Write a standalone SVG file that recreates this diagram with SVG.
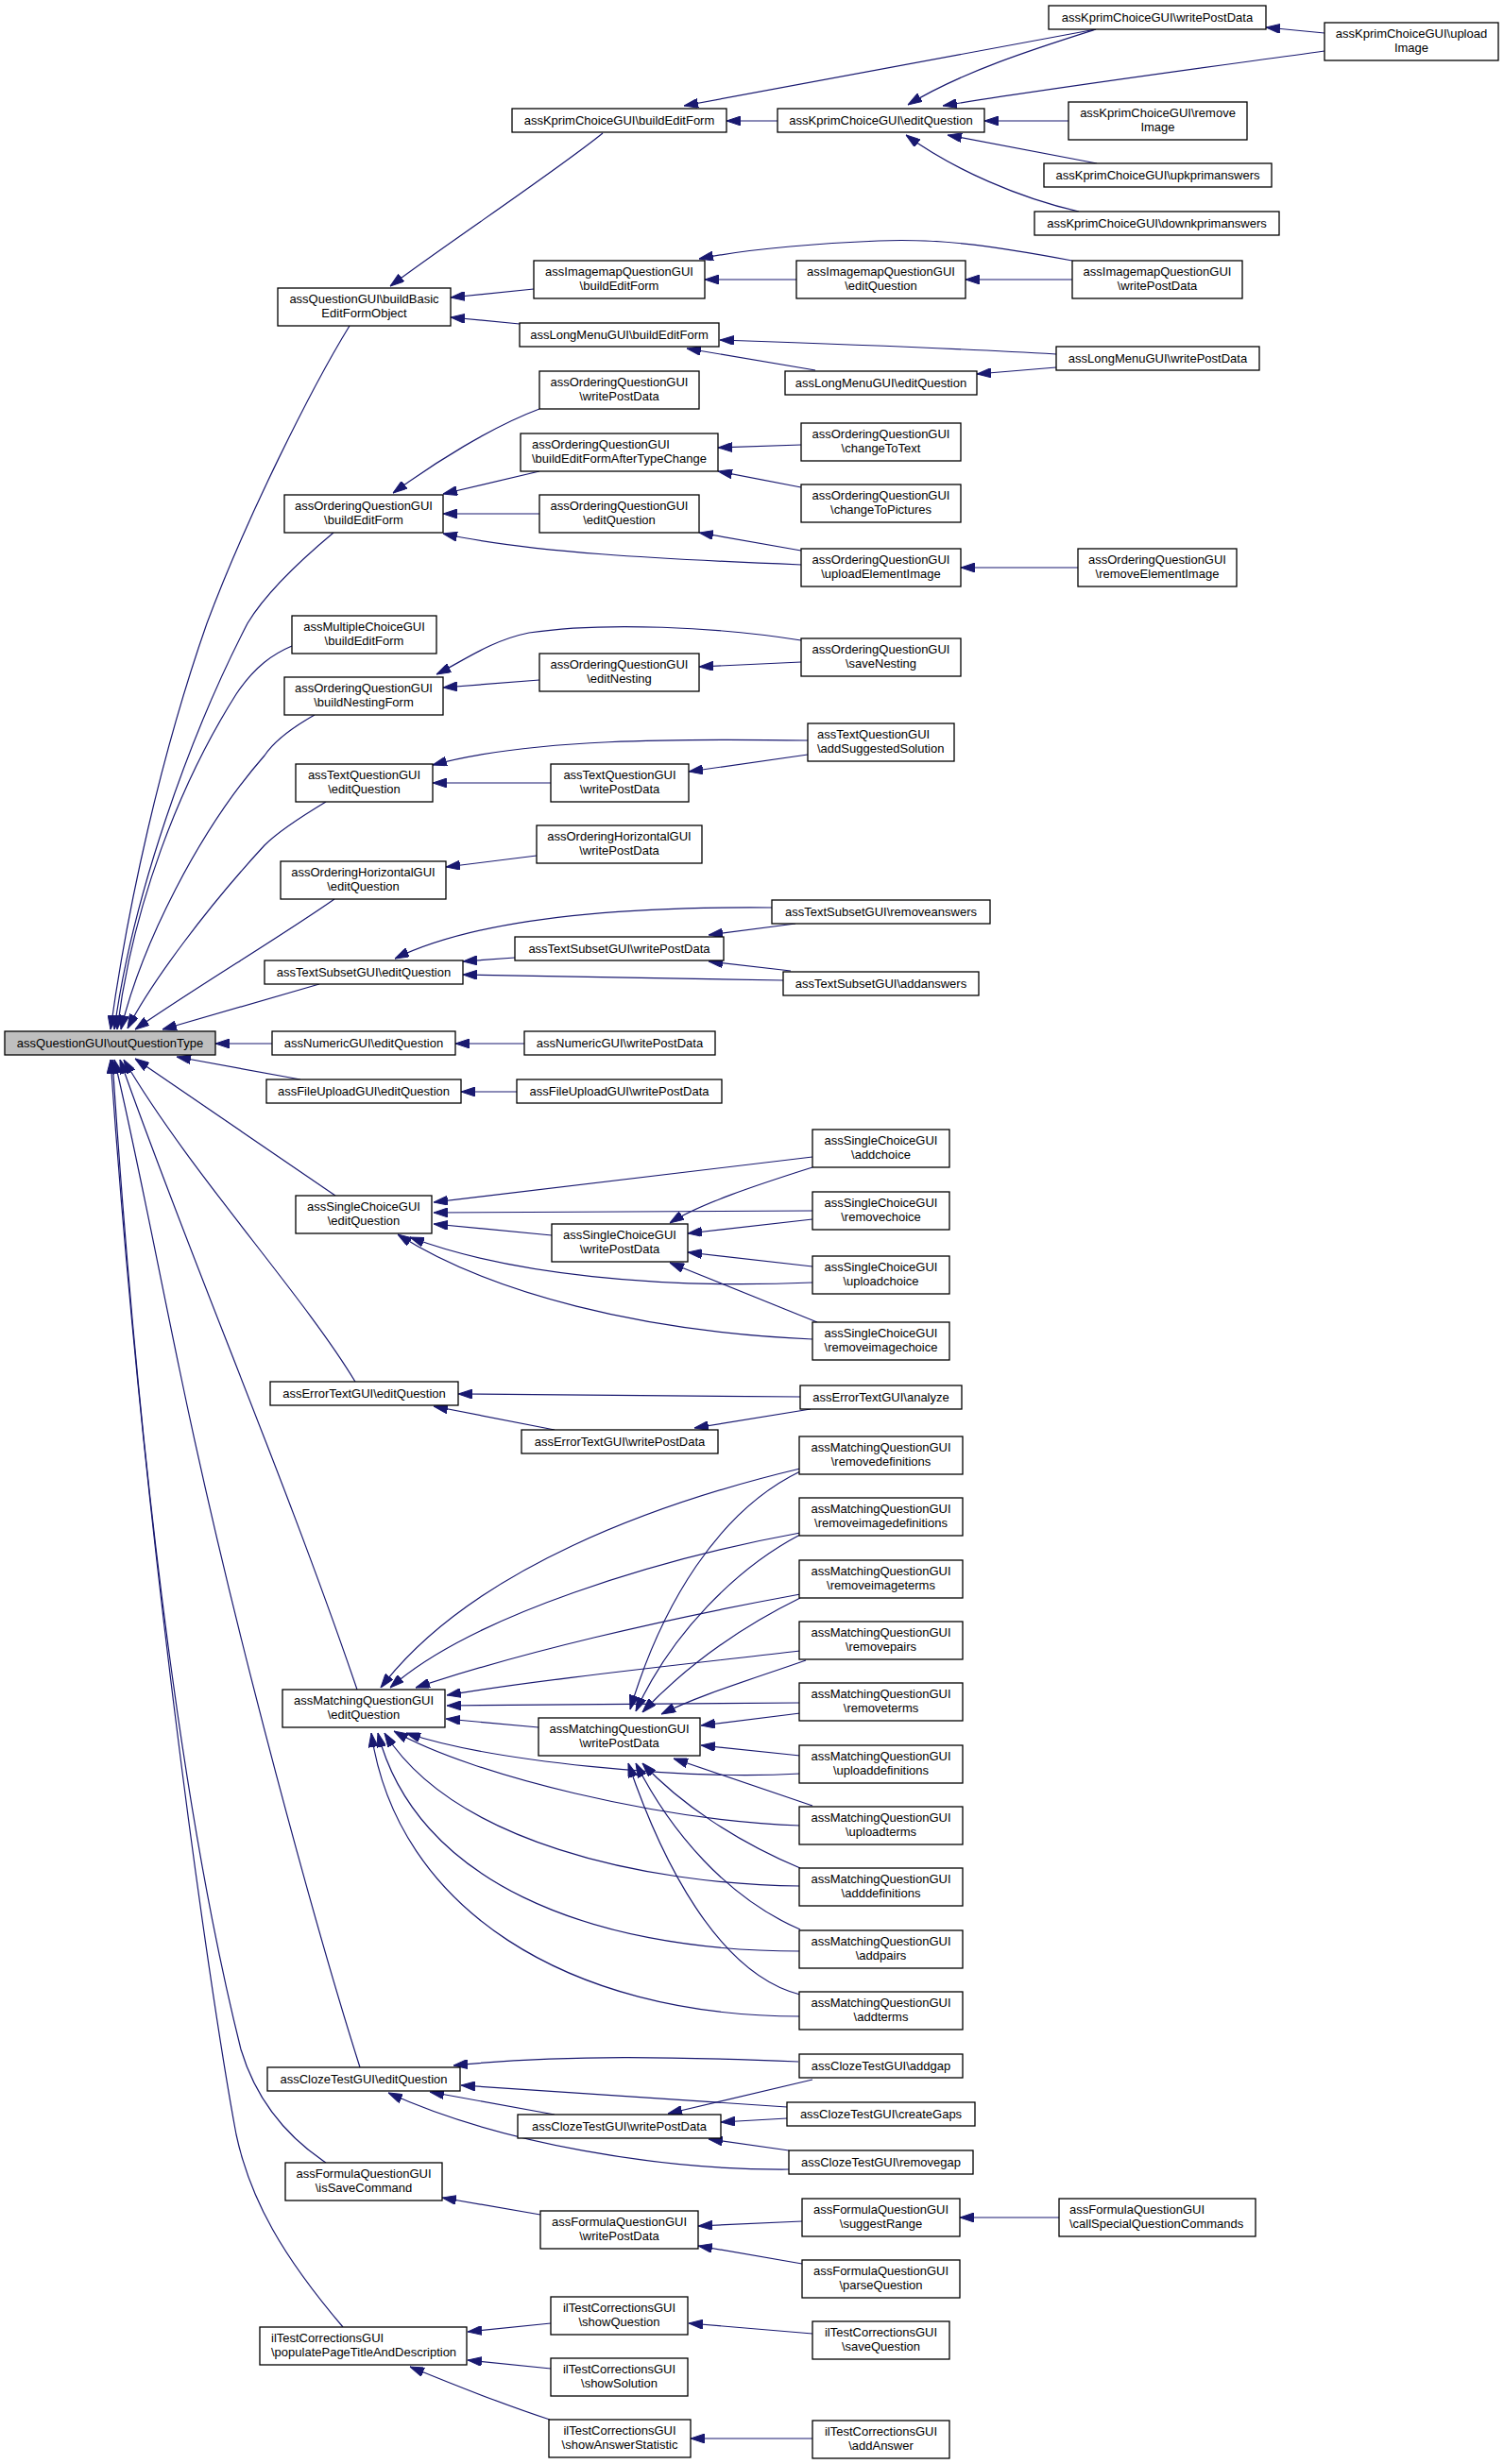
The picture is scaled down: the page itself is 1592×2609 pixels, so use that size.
<svg xmlns="http://www.w3.org/2000/svg" width="1592" height="2609" viewBox="0 0 1592 2609">
<style>
.node rect{fill:#fff;stroke:#000;stroke-width:1.3}
.node text{font-family:"Liberation Sans",Arial,sans-serif;font-size:13px;fill:#000;text-anchor:middle}
.node text.l{text-anchor:start}
#n0 rect{fill:#bfbfbf}
.edges path{fill:none;stroke:#191970;stroke-width:1.2;marker-end:url(#ah)}
</style>
<defs>
<marker id="ah" markerUnits="userSpaceOnUse" markerWidth="15" markerHeight="10" refX="15" refY="5" orient="auto">
<path d="M0,0 L15,5 L0,10 Z" fill="#191970" stroke="#191970" stroke-width="1"/>
</marker>
</defs>
<rect width="1592" height="2609" fill="#fff"/>
<g class="edges">
<path d="M638,141 C590,180 470,260 413,303"/>
<path d="M565,306 L477,315"/>
<path d="M550,343 L477,336"/>
<path d="M1160,31 L724,112"/>
<path d="M823,128 L769,128"/>
<path d="M1160,31 C1100,50 1020,75 961,111"/>
<path d="M1402,54 C1250,75 1100,95 998,112"/>
<path d="M1402,35 L1340,29"/>
<path d="M1131,128 L1042,128"/>
<path d="M1161,173 L1003,143"/>
<path d="M1142,224 C1080,210 1010,180 959,143"/>
<path d="M843,296 L746,296"/>
<path d="M1135,296 L1022,296"/>
<path d="M1135,276 C1060,262 1000,252 930,255 C860,258 790,264 740,274"/>
<path d="M1118,375 C1000,368 880,364 762,360"/>
<path d="M863,392 L727,369"/>
<path d="M1118,389 L1034,396"/>
<path d="M571,433 C520,452 460,490 416,522"/>
<path d="M571,499 L469,523"/>
<path d="M571,544 L469,544"/>
<path d="M848,598 C700,592 560,585 469,565"/>
<path d="M848,471 L760,474"/>
<path d="M848,516 L760,499"/>
<path d="M848,583 L740,564"/>
<path d="M1141,601 L1017,601"/>
<path d="M571,720 L469,728"/>
<path d="M848,678 C760,664 640,658 560,670 C520,678 490,700 462,714"/>
<path d="M848,701 L740,706"/>
<path d="M583,829 L458,829"/>
<path d="M855,784 C720,782 560,782 458,810"/>
<path d="M855,799 L729,817"/>
<path d="M568,906 L472,918"/>
<path d="M545,1014 L490,1018"/>
<path d="M817,961 C700,960 520,965 418,1015"/>
<path d="M829,1038 L490,1032"/>
<path d="M842,978 L750,990"/>
<path d="M837,1028 L750,1018"/>
<path d="M555,1105 L482,1105"/>
<path d="M547,1156 L488,1156"/>
<path d="M288,1105 L228,1105"/>
<path d="M338,1042 L172,1090"/>
<path d="M318,1143 L187,1119"/>
<path d="M370,345 C330,410 260,550 219,660 C170,800 135,960 117,1090"/>
<path d="M353,564 C310,600 280,630 262,660 C200,780 140,950 121,1090"/>
<path d="M309,684 C290,692 270,705 250,735 C190,830 140,960 124,1090"/>
<path d="M333,757 C310,770 290,785 280,800 C210,880 150,1000 128,1090"/>
<path d="M345,849 C310,870 290,885 280,895 C220,960 160,1040 135,1089"/>
<path d="M354,952 C300,990 200,1050 143,1090"/>
<path d="M355,1266 L143,1121"/>
<path d="M376,1463 C320,1370 200,1240 131,1122"/>
<path d="M378,1789 C300,1560 200,1330 127,1122"/>
<path d="M381,2189 C340,2060 250,1740 190,1450 C165,1330 140,1200 121,1122"/>
<path d="M345,2290 C300,2260 270,2220 255,2170 C200,1950 150,1600 119,1122"/>
<path d="M363,2464 C300,2390 265,2330 250,2260 C220,2100 150,1600 117,1122"/>
<path d="M860,1225 L459,1273"/>
<path d="M860,1282 L459,1284"/>
<path d="M584,1308 L459,1296"/>
<path d="M860,1358 C700,1365 540,1350 434,1310"/>
<path d="M860,1418 C680,1410 520,1370 421,1307"/>
<path d="M860,1236 C800,1255 740,1275 709,1295"/>
<path d="M860,1291 L728,1306"/>
<path d="M860,1341 L728,1326"/>
<path d="M865,1400 L709,1337"/>
<path d="M847,1479 L485,1476"/>
<path d="M587,1514 L459,1489"/>
<path d="M858,1492 L735,1512"/>
<path d="M847,1555 C700,1590 500,1660 403,1787"/>
<path d="M847,1623 C700,1650 500,1710 413,1787"/>
<path d="M847,1688 C700,1715 550,1750 440,1787"/>
<path d="M847,1748 C700,1765 560,1780 473,1795"/>
<path d="M847,1803 L473,1806"/>
<path d="M847,1878 C720,1885 520,1865 430,1835"/>
<path d="M847,1933 C700,1928 500,1880 417,1833"/>
<path d="M847,1997 C680,1995 480,1950 407,1835"/>
<path d="M847,2066 C620,2066 440,1990 400,1835"/>
<path d="M847,2135 C600,2135 420,2020 393,1835"/>
<path d="M847,1558 C760,1600 700,1700 667,1810"/>
<path d="M847,1625 C780,1660 710,1730 673,1812"/>
<path d="M847,1692 C790,1720 730,1760 680,1813"/>
<path d="M853,1758 C790,1780 740,1795 700,1815"/>
<path d="M847,1814 L742,1827"/>
<path d="M847,1859 L742,1848"/>
<path d="M860,1912 L713,1862"/>
<path d="M847,1978 C780,1950 720,1910 680,1867"/>
<path d="M847,2043 C770,2010 710,1940 673,1867"/>
<path d="M847,2112 C760,2090 700,1970 665,1867"/>
<path d="M570,1829 L472,1820"/>
<path d="M845,2183 C720,2178 600,2175 480,2187"/>
<path d="M833,2231 L488,2208"/>
<path d="M587,2239 L455,2215"/>
<path d="M860,2202 L707,2238"/>
<path d="M833,2243 L763,2247"/>
<path d="M835,2277 L750,2265"/>
<path d="M835,2297 C700,2298 530,2270 411,2216"/>
<path d="M572,2345 L468,2327"/>
<path d="M849,2352 L739,2357"/>
<path d="M849,2397 L739,2378"/>
<path d="M1121,2348 L1016,2348"/>
<path d="M583,2460 L495,2469"/>
<path d="M583,2508 L495,2499"/>
<path d="M582,2562 C530,2545 480,2525 434,2506"/>
<path d="M860,2471 L729,2460"/>
<path d="M860,2582 L731,2582"/>
</g>
<g id="n0" class="node"><rect x="5" y="1092" width="223" height="25"/><text x="116.5" y="1109">assQuestionGUI\outQuestionType</text></g>
<g id="n1" class="node"><rect x="294" y="305" width="183" height="40"/><text x="385.5" y="321">assQuestionGUI\buildBasic</text><text x="385.5" y="336">EditFormObject</text></g>
<g id="n2" class="node"><rect x="542" y="115" width="227" height="25"/><text x="655.5" y="132">assKprimChoiceGUI\buildEditForm</text></g>
<g id="n3" class="node"><rect x="823" y="115" width="219" height="25"/><text x="932.5" y="132">assKprimChoiceGUI\editQuestion</text></g>
<g id="n4" class="node"><rect x="1110" y="6" width="230" height="25"/><text x="1225" y="23">assKprimChoiceGUI\writePostData</text></g>
<g id="n5" class="node"><rect x="1402" y="24" width="184" height="40"/><text x="1494" y="40">assKprimChoiceGUI\upload</text><text x="1494" y="55">Image</text></g>
<g id="n6" class="node"><rect x="1131" y="108" width="189" height="40"/><text x="1225.5" y="124">assKprimChoiceGUI\remove</text><text x="1225.5" y="139">Image</text></g>
<g id="n7" class="node"><rect x="1105" y="173" width="241" height="25"/><text x="1225.5" y="190">assKprimChoiceGUI\upkprimanswers</text></g>
<g id="n8" class="node"><rect x="1095" y="224" width="259" height="25"/><text x="1224.5" y="241">assKprimChoiceGUI\downkprimanswers</text></g>
<g id="n9" class="node"><rect x="565" y="276" width="181" height="40"/><text x="655.5" y="292">assImagemapQuestionGUI</text><text x="655.5" y="307">\buildEditForm</text></g>
<g id="n10" class="node"><rect x="843" y="276" width="179" height="40"/><text x="932.5" y="292">assImagemapQuestionGUI</text><text x="932.5" y="307">\editQuestion</text></g>
<g id="n11" class="node"><rect x="1135" y="276" width="180" height="40"/><text x="1225" y="292">assImagemapQuestionGUI</text><text x="1225" y="307">\writePostData</text></g>
<g id="n12" class="node"><rect x="550" y="342" width="211" height="25"/><text x="655.5" y="359">assLongMenuGUI\buildEditForm</text></g>
<g id="n13" class="node"><rect x="831" y="393" width="203" height="25"/><text x="932.5" y="410">assLongMenuGUI\editQuestion</text></g>
<g id="n14" class="node"><rect x="1118" y="367" width="215" height="25"/><text x="1225.5" y="384">assLongMenuGUI\writePostData</text></g>
<g id="n15" class="node"><rect x="571" y="393" width="169" height="40"/><text x="655.5" y="409">assOrderingQuestionGUI</text><text x="655.5" y="424">\writePostData</text></g>
<g id="n16" class="node"><rect x="551" y="459" width="209" height="40"/><text class="l" x="563" y="475">assOrderingQuestionGUI</text><text class="l" x="563" y="490">\buildEditFormAfterTypeChange</text></g>
<g id="n17" class="node"><rect x="301" y="524" width="168" height="40"/><text x="385" y="540">assOrderingQuestionGUI</text><text x="385" y="555">\buildEditForm</text></g>
<g id="n18" class="node"><rect x="571" y="524" width="169" height="40"/><text x="655.5" y="540">assOrderingQuestionGUI</text><text x="655.5" y="555">\editQuestion</text></g>
<g id="n19" class="node"><rect x="848" y="448" width="169" height="40"/><text x="932.5" y="464">assOrderingQuestionGUI</text><text x="932.5" y="479">\changeToText</text></g>
<g id="n20" class="node"><rect x="848" y="513" width="169" height="40"/><text x="932.5" y="529">assOrderingQuestionGUI</text><text x="932.5" y="544">\changeToPictures</text></g>
<g id="n21" class="node"><rect x="848" y="581" width="169" height="40"/><text x="932.5" y="597">assOrderingQuestionGUI</text><text x="932.5" y="612">\uploadElementImage</text></g>
<g id="n22" class="node"><rect x="1141" y="581" width="168" height="40"/><text x="1225" y="597">assOrderingQuestionGUI</text><text x="1225" y="612">\removeElementImage</text></g>
<g id="n23" class="node"><rect x="309" y="652" width="153" height="40"/><text x="385.5" y="668">assMultipleChoiceGUI</text><text x="385.5" y="683">\buildEditForm</text></g>
<g id="n24" class="node"><rect x="301" y="717" width="168" height="40"/><text x="385" y="733">assOrderingQuestionGUI</text><text x="385" y="748">\buildNestingForm</text></g>
<g id="n25" class="node"><rect x="571" y="692" width="169" height="40"/><text x="655.5" y="708">assOrderingQuestionGUI</text><text x="655.5" y="723">\editNesting</text></g>
<g id="n26" class="node"><rect x="848" y="676" width="169" height="40"/><text x="932.5" y="692">assOrderingQuestionGUI</text><text x="932.5" y="707">\saveNesting</text></g>
<g id="n27" class="node"><rect x="313" y="809" width="145" height="40"/><text x="385.5" y="825">assTextQuestionGUI</text><text x="385.5" y="840">\editQuestion</text></g>
<g id="n28" class="node"><rect x="583" y="809" width="146" height="40"/><text x="656" y="825">assTextQuestionGUI</text><text x="656" y="840">\writePostData</text></g>
<g id="n29" class="node"><rect x="855" y="766" width="155" height="40"/><text class="l" x="865" y="782">assTextQuestionGUI</text><text class="l" x="865" y="797">\addSuggestedSolution</text></g>
<g id="n30" class="node"><rect x="568" y="874" width="175" height="40"/><text x="655.5" y="890">assOrderingHorizontalGUI</text><text x="655.5" y="905">\writePostData</text></g>
<g id="n31" class="node"><rect x="297" y="912" width="175" height="40"/><text x="384.5" y="928">assOrderingHorizontalGUI</text><text x="384.5" y="943">\editQuestion</text></g>
<g id="n32" class="node"><rect x="545" y="992" width="221" height="25"/><text x="655.5" y="1009">assTextSubsetGUI\writePostData</text></g>
<g id="n33" class="node"><rect x="280" y="1017" width="210" height="25"/><text x="385" y="1034">assTextSubsetGUI\editQuestion</text></g>
<g id="n34" class="node"><rect x="817" y="953" width="231" height="25"/><text x="932.5" y="970">assTextSubsetGUI\removeanswers</text></g>
<g id="n35" class="node"><rect x="829" y="1029" width="207" height="25"/><text x="932.5" y="1046">assTextSubsetGUI\addanswers</text></g>
<g id="n36" class="node"><rect x="288" y="1092" width="194" height="25"/><text x="385" y="1109">assNumericGUI\editQuestion</text></g>
<g id="n37" class="node"><rect x="555" y="1092" width="202" height="25"/><text x="656" y="1109">assNumericGUI\writePostData</text></g>
<g id="n38" class="node"><rect x="282" y="1143" width="206" height="25"/><text x="385" y="1160">assFileUploadGUI\editQuestion</text></g>
<g id="n39" class="node"><rect x="547" y="1143" width="217" height="25"/><text x="655.5" y="1160">assFileUploadGUI\writePostData</text></g>
<g id="n40" class="node"><rect x="313" y="1266" width="144" height="40"/><text x="385" y="1282">assSingleChoiceGUI</text><text x="385" y="1297">\editQuestion</text></g>
<g id="n41" class="node"><rect x="584" y="1296" width="144" height="40"/><text x="656" y="1312">assSingleChoiceGUI</text><text x="656" y="1327">\writePostData</text></g>
<g id="n42" class="node"><rect x="860" y="1196" width="145" height="40"/><text x="932.5" y="1212">assSingleChoiceGUI</text><text x="932.5" y="1227">\addchoice</text></g>
<g id="n43" class="node"><rect x="860" y="1262" width="145" height="40"/><text x="932.5" y="1278">assSingleChoiceGUI</text><text x="932.5" y="1293">\removechoice</text></g>
<g id="n44" class="node"><rect x="860" y="1330" width="145" height="40"/><text x="932.5" y="1346">assSingleChoiceGUI</text><text x="932.5" y="1361">\uploadchoice</text></g>
<g id="n45" class="node"><rect x="860" y="1400" width="145" height="40"/><text x="932.5" y="1416">assSingleChoiceGUI</text><text x="932.5" y="1431">\removeimagechoice</text></g>
<g id="n46" class="node"><rect x="286" y="1463" width="199" height="25"/><text x="385.5" y="1480">assErrorTextGUI\editQuestion</text></g>
<g id="n47" class="node"><rect x="552" y="1514" width="208" height="25"/><text x="656" y="1531">assErrorTextGUI\writePostData</text></g>
<g id="n48" class="node"><rect x="847" y="1467" width="171" height="25"/><text x="932.5" y="1484">assErrorTextGUI\analyze</text></g>
<g id="n49" class="node"><rect x="299" y="1789" width="172" height="40"/><text x="385" y="1805">assMatchingQuestionGUI</text><text x="385" y="1820">\editQuestion</text></g>
<g id="n50" class="node"><rect x="570" y="1819" width="171" height="40"/><text x="655.5" y="1835">assMatchingQuestionGUI</text><text x="655.5" y="1850">\writePostData</text></g>
<g id="n51" class="node"><rect x="846" y="1521" width="173" height="40"/><text x="932.5" y="1537">assMatchingQuestionGUI</text><text x="932.5" y="1552">\removedefinitions</text></g>
<g id="n52" class="node"><rect x="846" y="1586" width="173" height="40"/><text x="932.5" y="1602">assMatchingQuestionGUI</text><text x="932.5" y="1617">\removeimagedefinitions</text></g>
<g id="n53" class="node"><rect x="846" y="1652" width="173" height="40"/><text x="932.5" y="1668">assMatchingQuestionGUI</text><text x="932.5" y="1683">\removeimageterms</text></g>
<g id="n54" class="node"><rect x="846" y="1717" width="173" height="40"/><text x="932.5" y="1733">assMatchingQuestionGUI</text><text x="932.5" y="1748">\removepairs</text></g>
<g id="n55" class="node"><rect x="846" y="1782" width="173" height="40"/><text x="932.5" y="1798">assMatchingQuestionGUI</text><text x="932.5" y="1813">\removeterms</text></g>
<g id="n56" class="node"><rect x="846" y="1848" width="173" height="40"/><text x="932.5" y="1864">assMatchingQuestionGUI</text><text x="932.5" y="1879">\uploaddefinitions</text></g>
<g id="n57" class="node"><rect x="846" y="1913" width="173" height="40"/><text x="932.5" y="1929">assMatchingQuestionGUI</text><text x="932.5" y="1944">\uploadterms</text></g>
<g id="n58" class="node"><rect x="846" y="1978" width="173" height="40"/><text x="932.5" y="1994">assMatchingQuestionGUI</text><text x="932.5" y="2009">\adddefinitions</text></g>
<g id="n59" class="node"><rect x="846" y="2044" width="173" height="40"/><text x="932.5" y="2060">assMatchingQuestionGUI</text><text x="932.5" y="2075">\addpairs</text></g>
<g id="n60" class="node"><rect x="846" y="2109" width="173" height="40"/><text x="932.5" y="2125">assMatchingQuestionGUI</text><text x="932.5" y="2140">\addterms</text></g>
<g id="n61" class="node"><rect x="283" y="2189" width="204" height="25"/><text x="385" y="2206">assClozeTestGUI\editQuestion</text></g>
<g id="n62" class="node"><rect x="548" y="2239" width="215" height="25"/><text x="655.5" y="2256">assClozeTestGUI\writePostData</text></g>
<g id="n63" class="node"><rect x="846" y="2175" width="173" height="25"/><text x="932.5" y="2192">assClozeTestGUI\addgap</text></g>
<g id="n64" class="node"><rect x="833" y="2226" width="199" height="25"/><text x="932.5" y="2243">assClozeTestGUI\createGaps</text></g>
<g id="n65" class="node"><rect x="835" y="2277" width="195" height="25"/><text x="932.5" y="2294">assClozeTestGUI\removegap</text></g>
<g id="n66" class="node"><rect x="302" y="2290" width="166" height="40"/><text x="385" y="2306">assFormulaQuestionGUI</text><text x="385" y="2321">\isSaveCommand</text></g>
<g id="n67" class="node"><rect x="572" y="2341" width="167" height="40"/><text x="655.5" y="2357">assFormulaQuestionGUI</text><text x="655.5" y="2372">\writePostData</text></g>
<g id="n68" class="node"><rect x="849" y="2328" width="167" height="40"/><text x="932.5" y="2344">assFormulaQuestionGUI</text><text x="932.5" y="2359">\suggestRange</text></g>
<g id="n69" class="node"><rect x="1121" y="2328" width="208" height="40"/><text class="l" x="1132" y="2344">assFormulaQuestionGUI</text><text class="l" x="1132" y="2359">\callSpecialQuestionCommands</text></g>
<g id="n70" class="node"><rect x="849" y="2393" width="167" height="40"/><text x="932.5" y="2409">assFormulaQuestionGUI</text><text x="932.5" y="2424">\parseQuestion</text></g>
<g id="n71" class="node"><rect x="275" y="2464" width="219" height="40"/><text class="l" x="287" y="2480">ilTestCorrectionsGUI</text><text class="l" x="287" y="2495">\populatePageTitleAndDescription</text></g>
<g id="n72" class="node"><rect x="583" y="2432" width="145" height="40"/><text x="655.5" y="2448">ilTestCorrectionsGUI</text><text x="655.5" y="2463">\showQuestion</text></g>
<g id="n73" class="node"><rect x="583" y="2497" width="145" height="40"/><text x="655.5" y="2513">ilTestCorrectionsGUI</text><text x="655.5" y="2528">\showSolution</text></g>
<g id="n74" class="node"><rect x="581" y="2562" width="150" height="40"/><text x="656" y="2578">ilTestCorrectionsGUI</text><text x="656" y="2593">\showAnswerStatistic</text></g>
<g id="n75" class="node"><rect x="860" y="2458" width="145" height="40"/><text x="932.5" y="2474">ilTestCorrectionsGUI</text><text x="932.5" y="2489">\saveQuestion</text></g>
<g id="n76" class="node"><rect x="860" y="2563" width="145" height="40"/><text x="932.5" y="2579">ilTestCorrectionsGUI</text><text x="932.5" y="2594">\addAnswer</text></g>
</svg>
